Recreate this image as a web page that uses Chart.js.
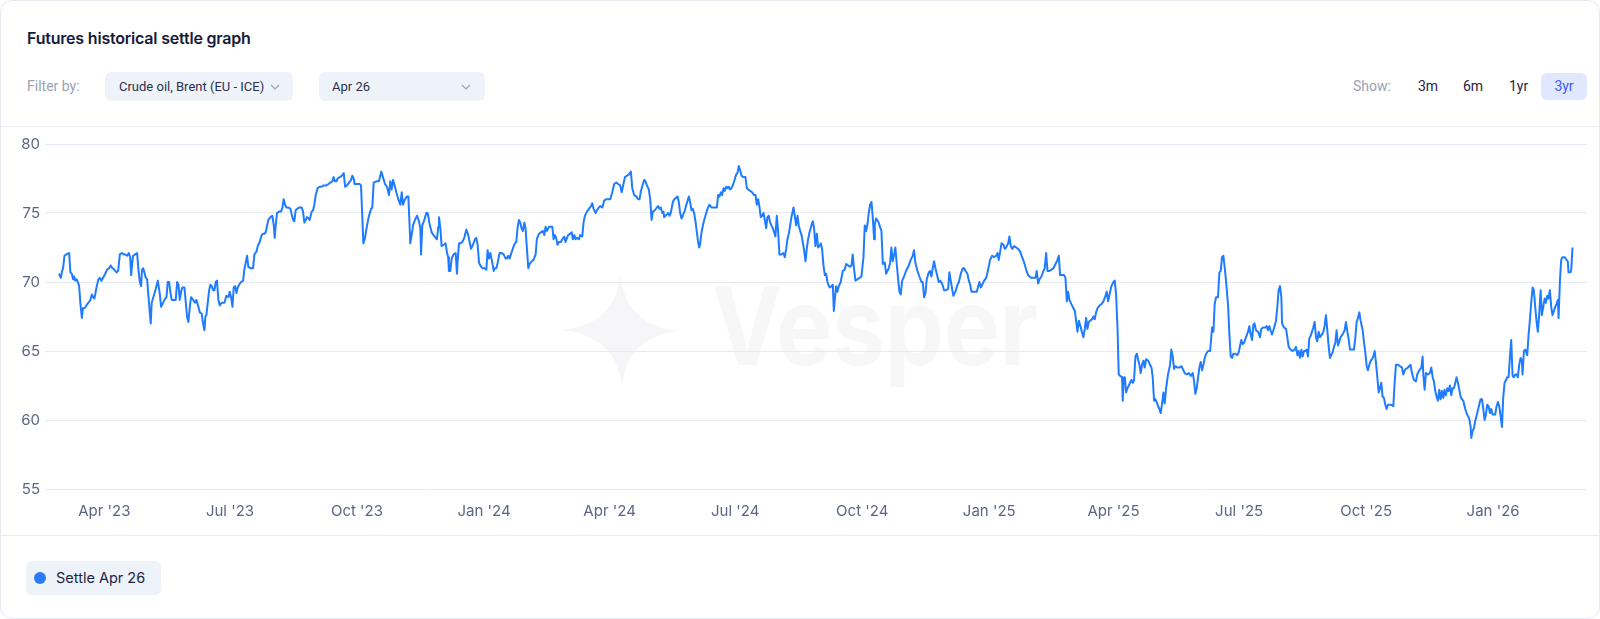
<!DOCTYPE html>
<html>
<head>
<meta charset="utf-8">
<title>Futures historical settle graph</title>
<script src="https://cdn.jsdelivr.net/npm/chart.js@4.4.1/dist/chart.umd.min.js"></script>
<style>
  html, body { margin: 0; padding: 0; background: #fff; }
  body { width: 1600px; height: 619px; position: relative; overflow: hidden; font-family: Inter, Roboto, sans-serif; }
  .card { position: absolute; left: 0; top: 0; width: 1598px; height: 617px; border: 1px solid #e7eaf1; border-radius: 12px; }
  .abs { position: absolute; white-space: nowrap; }
  .title { left: 27px; top: 29px; font: 600 16px/19px Inter, sans-serif; color: #161a3d; letter-spacing: -0.2px; }
  .muted { color: #9aa2b3; font: 14px/17px Roboto, sans-serif; }
  .select { background: #eef3f9; border-radius: 6px; height: 29px; top: 72px; }
  .select span { position: absolute; top: 6px; font: 13px/17px Roboto, sans-serif; color: #2b3050; }
  .select svg { position: absolute; top: 12px; }
  .range { top: 78px; font: 14px/17px Roboto, sans-serif; color: #1f2447; }
  .range.on { background: #dfe8ff; color: #3d5afe; border-radius: 6px; top: 73px; height: 27px; width: 46px; line-height: 27px; text-align: center; }
  .sep { left: 1px; width: 1598px; height: 1px; background: #e8ebf2; }
  .chip { left: 26px; top: 561px; width: 135px; height: 34px; background: #eef3f9; border-radius: 6px; }
  .chip i { position: absolute; left: 8px; top: 11px; width: 12px; height: 12px; border-radius: 50%; background: #2a7cf6; }
  .chip span { position: absolute; left: 30px; top: 8px; font: 14.5px/18px Inter, sans-serif; color: #1e2446; }
  #wrap { position: absolute; left: 0; top: 130px; width: 1600px; height: 400px; }
  #mark { position: absolute; left: 0; top: 0; }
</style>
</head>
<body>
<div class="card"></div>
<div class="abs title">Futures historical settle graph</div>

<div class="abs muted" style="left:27px; top:78px;">Filter by:</div>
<div class="abs select" style="left:105px; width:188px;">
  <span style="left:14px;">Crude oil, Brent (EU - ICE)</span>
  <svg style="left:165px;" width="10" height="6" viewBox="0 0 10 6"><polyline points="1,1 5,5 9,1" fill="none" stroke="#9aa2b3" stroke-width="1.2"/></svg>
</div>
<div class="abs select" style="left:319px; width:166px;">
  <span style="left:13px;">Apr 26</span>
  <svg style="left:142px;" width="10" height="6" viewBox="0 0 10 6"><polyline points="1,1 5,5 9,1" fill="none" stroke="#9aa2b3" stroke-width="1.2"/></svg>
</div>

<div class="abs muted" style="left:1353px; top:78px;">Show:</div>
<div class="abs range" style="left:1418px;">3m</div>
<div class="abs range" style="left:1463px;">6m</div>
<div class="abs range" style="left:1509px;">1yr</div>
<div class="abs range on" style="left:1541px;">3yr</div>

<div class="abs sep" style="top:126px;"></div>
<div class="abs sep" style="top:535px;"></div>

<svg id="mark" width="1600" height="619">
  <path d="M620,272 Q618,324 562,330 Q618,336 622,389 Q625,336 680,331 Q624,326 620,272 Z" fill="#f6f6f8"/>
  <text x="712" y="365" font-family="Inter, sans-serif" font-weight="700" font-size="108" fill="#f7f7f8" textLength="326" lengthAdjust="spacingAndGlyphs">Vesper</text>
</svg>

<div id="wrap"><canvas id="myChart" width="1600" height="400"></canvas></div>

<div class="abs chip"><i></i><span>Settle Apr 26</span></div>

<script>
// x = days after 27 Feb 2023, y = settle price (USD/bbl)
const settleMar23 = [
  [0.2,70.6],[1.4,70.3],[2.4,70.8],[3.1,71.0],[4.1,71.9],[5.5,72.0],[7.5,72.1],[8.4,70.7],[9.4,70.6],[10.4,70.2],
  [11.1,70.4],[11.8,70.1],[12.8,70.2],[13.8,70.0],[14.7,69.7],[15.7,68.4],[16.7,67.4],[17.4,68.1],[18.6,68.1],[20.0,68.3],
  [21.5,68.5],[22.9,68.7],[23.9,69.1],[24.9,68.9],[25.8,68.8],[27.3,69.6],[28.7,70.2],[29.7,70.3],[30.9,70.1],[32.1,70.3],
  [33.6,70.6],[35.0,70.9],[36.4,71.0],[37.6,71.2],[38.9,71.0],[40.3,70.9],[41.8,70.7],[43.0,70.8],[44.2,72.0],[45.6,72.1],
  [47.1,72.0],[48.0,72.0],[49.5,71.9],[50.7,72.1],[51.7,71.8],[52.4,70.5],[53.1,71.3],[53.8,71.9],[55.3,72.0],[56.7,72.1],
  [57.7,70.9],[58.7,70.0],[59.6,69.7],[60.3,70.9],[61.1,71.0],[62.0,70.7],[63.0,70.3],[64.0,70.2],[64.9,69.0],[65.9,67.8],
  [66.6,67.0],[67.3,68.5],[68.8,69.0],[70.2,69.5],[71.7,70.1],[73.1,69.2],[74.1,68.2],[75.1,68.4],[76.5,68.7],[78.0,68.9],
  [78.9,70.0],[79.9,70.0],[80.9,69.2],[81.8,68.7],[83.3,68.7],[84.7,68.7],[85.7,70.0],[86.7,69.8],[87.6,68.7],[88.6,69.3],
  [89.5,69.6],[91.0,69.6],[92.0,68.5],[92.9,67.5],[93.9,67.1],[94.9,68.2],[95.8,68.9],[97.3,68.7],[98.7,68.5],[99.7,68.7],
  [101.1,68.2],[102.1,67.8],[103.5,67.7],[104.5,67.0],[105.5,66.5],[106.2,67.5],[106.9,67.6],[107.9,68.5],[108.9,69.4],[109.8,69.8],
  [110.8,69.7],[111.8,69.4],[112.7,69.4],[113.7,70.0],[114.6,70.1],[115.6,68.7],[116.6,68.3],[118.0,68.5],[120.0,68.5],[121.4,69.0],
  [122.9,68.9],[123.8,69.3],[124.8,68.9],[125.8,68.2],[126.7,69.6],[127.7,69.7],[128.7,69.2],[129.6,69.6],[130.6,69.8],[132.0,70.0],
  [133.5,70.1],[134.4,70.9],[135.4,71.4],[136.4,71.9],[137.3,71.1],[138.8,71.0],[140.7,71.0],[141.7,72.0],[143.2,72.2],[144.1,72.6],
  [145.5,72.9],[147.0,73.4],[148.0,73.5],[148.9,73.5],[149.9,73.6],[150.9,74.1],[151.8,74.5],[153.3,74.7],[154.7,74.8],[155.7,74.1],
  [156.4,73.2],[157.1,74.1],[158.1,75.0],[159.5,75.1],[161.0,75.1],[162.0,75.4],[162.9,76.0],[163.9,75.6],[164.9,75.4],[166.3,75.4],
  [167.8,75.3],[168.7,74.9],[169.7,74.5],[170.6,74.4],[171.6,75.2],[172.6,75.3],[174.0,75.4],[176.0,75.4],[176.9,75.1],[177.9,74.3],
  [178.9,74.5],[179.8,74.7],[180.8,74.6],[181.7,74.5],[183.2,75.1],[184.2,75.2],[185.1,75.6],[186.1,76.3],[187.5,76.8],[189.0,76.9],
  [190.4,76.9],[191.9,77.0],[193.8,77.0],[195.3,77.1],[196.7,77.2],[198.2,77.3],[199.1,77.6],[199.9,77.3],[201.1,77.3],[202.0,77.5],
  [203.5,77.6],[205.0,77.7],[206.4,77.9],[207.4,76.9],[208.8,77.0],[210.2,77.2],[211.7,77.4],[212.6,77.7],[213.6,77.5],[214.3,77.1]
];
const settleOct23 = [
  [215.5,77.1],[217.9,77.1],[218.9,77.0],[219.9,74.6],[220.6,72.8],[221.8,73.2],[223.3,74.1],[224.7,74.8],[226.2,75.3],[227.1,75.4],
  [228.1,77.2],[230.0,77.3],[231.9,77.3],[233.6,78.0],[234.8,77.6],[236.3,77.1],[237.7,76.9],[239.2,76.3],[240.1,77.3],[241.1,76.7],
  [242.1,77.4],[243.0,77.1],[244.5,76.5],[245.9,76.0],[247.4,75.6],[248.4,76.5],[249.3,75.6],[250.8,76.0],[252.2,76.2],[253.2,76.2],
  [254.1,74.1],[254.6,72.8],[255.6,73.4],[256.6,74.1],[258.0,74.5],[259.5,74.8],[260.9,74.4],[261.9,73.9],[262.4,72.0],[263.3,74.1],
  [264.8,74.5],[266.2,75.0],[267.2,75.0],[268.6,74.2],[270.1,73.6],[271.5,73.4],[273.0,73.2],[273.9,73.1],[274.9,74.0],[275.4,74.7],
  [276.4,73.9],[277.3,72.6],[278.8,72.7],[280.2,72.8],[281.2,72.1],[282.1,71.8],[282.6,70.8],[283.6,70.8],[284.6,71.7],[286.0,72.0],
  [287.5,72.1],[288.4,70.6],[288.9,71.5],[289.9,72.8],[290.8,72.8],[292.3,72.9],[293.7,73.2],[295.2,73.8],[296.6,73.4],[297.6,72.9],
  [298.6,72.4],[300.0,72.7],[301.5,73.1],[302.4,73.2],[303.4,72.7],[304.4,71.4],[305.3,71.2],[306.8,71.0],[308.2,71.0],[309.7,70.9],
  [310.6,72.3],[311.6,71.7],[312.6,72.1],[314.0,71.4],[315.0,70.8],[315.9,71.0],[316.9,71.0],[317.9,71.4],[319.3,72.1],[320.8,72.1],
  [322.2,72.0],[323.7,71.7],[324.6,71.7],[325.6,71.9],[326.6,71.7],[327.5,72.0],[328.5,72.3],[329.5,72.6],[330.4,72.8],[331.4,72.9],
  [332.3,73.9],[333.3,74.5],[334.3,74.3],[335.2,73.9],[336.2,73.7],[337.2,74.3],[338.1,73.9],[339.1,72.4],[340.1,71.0],[341.0,71.3],
  [342.5,71.5],[343.9,71.6],[345.4,72.0],[346.3,73.1],[347.8,73.5],[349.2,73.6],[350.7,73.7],[351.7,73.4],[352.6,74.0],[353.6,73.7],
  [355.0,74.0],[356.5,74.0],[357.5,74.0],[358.4,73.1],[359.4,73.4],[360.3,73.2],[361.3,72.7],[362.3,72.9],[363.7,72.9],[364.7,73.1],
  [366.1,73.3],[367.1,72.9],[368.1,73.2],[369.0,73.4],[370.5,73.5],[371.5,73.6],[372.4,73.1],[373.4,73.4],[374.3,73.1],[375.3,73.2],
  [376.8,73.1],[377.7,73.4],[379.2,73.3],[380.1,74.3],[381.1,74.8],[382.6,75.1],[384.0,75.3],[385.5,75.5],[386.4,75.7],[387.4,75.3],
  [388.8,75.0],[389.8,75.2],[391.2,75.4],[392.2,75.5],[393.7,75.4],[395.1,75.9],[396.6,76.0],[398.0,76.0],[399.5,76.0],[400.9,76.5],
  [402.3,77.1],[403.8,77.2],[405.2,77.1],[406.7,77.0],[407.7,76.5],[408.6,76.9],[410.1,77.6],[411.5,77.7],[413.0,77.8],[414.4,78.0],
  [415.4,76.8],[416.8,76.3],[418.3,76.2],[419.7,76.0],[420.7,76.0],[421.7,76.6],[423.1,77.1],[424.1,77.4],[425.0,77.3],[426.0,77.0],
  [427.4,76.7],[428.4,76.0],[429.4,74.5],[430.3,75.1]
];
const settleMay24 = [
  [431.8,75.2],[433.2,75.4],[434.2,75.5],[435.1,75.3],[436.1,75.4],[437.1,75.0],[438.0,75.1],[438.5,74.7],[439.5,74.8],[440.5,74.9],
  [441.4,75.0],[442.4,74.8],[443.3,75.0],[444.8,75.8],[445.8,76.0],[447.2,76.1],[448.2,76.2],[449.1,75.8],[450.1,75.0],[451.1,74.6],
  [452.0,74.8],[453.5,75.2],[454.9,75.7],[456.4,76.2],[457.3,75.8],[458.3,75.2],[459.3,75.3],[460.2,75.0],[461.2,74.4],[462.2,73.6],
  [463.1,72.9],[463.9,72.5],[464.6,72.8],[465.6,73.6],[467.0,74.3],[468.4,74.8],[469.9,75.3],[471.3,75.6],[472.8,75.4],[474.2,75.4],
  [475.7,75.4],[476.7,75.4],[477.6,76.3],[478.6,76.2],[479.6,76.5],[480.5,76.3],[481.5,76.8],[482.4,76.6],[483.4,76.9],[484.4,76.8],
  [485.3,76.9],[486.3,76.7],[487.3,76.8],[488.2,77.0],[489.2,77.3],[490.7,77.8],[491.6,77.9],[492.6,78.4],[493.6,78.1],[494.5,77.7],
  [496.0,77.6],[497.4,77.6],[498.4,76.8],[499.3,76.7],[500.8,76.6],[502.2,76.5],[503.7,76.3],[504.7,76.3],[505.6,75.6],[506.6,76.0],
  [507.6,75.4],[508.5,74.7],[509.5,74.8],[510.5,75.0],[511.4,74.5],[512.4,73.9],[513.3,74.7],[514.3,74.8],[515.3,74.3],[516.2,74.1],
  [517.2,73.9],[518.2,73.6],[519.1,73.3],[520.1,74.8],[521.1,73.6],[522.0,72.0],[523.5,72.0],[524.9,72.1],[525.9,71.8],[526.9,72.4],
  [527.8,73.1],[528.8,73.5],[529.8,74.1],[530.7,74.7],[532.2,75.4],[533.1,74.8],[534.1,74.1],[535.1,74.8],[536.0,74.1],[537.0,73.7],
  [538.0,73.4],[538.9,72.9],[539.9,72.3],[540.9,71.5],[541.8,72.4],[542.8,73.1],[543.8,73.6],[545.2,74.1],[546.2,74.4],[547.1,73.9],
  [548.1,72.6],[549.1,73.5],[550.0,72.5],[551.0,72.6],[552.0,72.8],[552.9,72.4],[553.9,71.2],[554.9,70.5],[555.8,70.6],[556.8,70.0],
  [557.8,69.7],[558.7,69.6],[559.7,69.7],[560.7,69.8],[561.4,67.9],[562.1,68.7],[563.1,69.7],[564.0,69.3],[565.0,69.7],[566.4,70.0],
  [567.9,70.8],[569.3,70.9],[570.3,71.3],[571.8,71.2],[573.2,71.1],[574.2,71.2],[575.1,72.0],[576.1,70.9],[577.1,70.1],[578.5,70.2],
  [580.0,70.3],[581.4,70.4],[582.9,71.8],[583.8,74.1],[584.8,73.7],[585.8,74.2],[586.7,75.0],[587.7,75.6],[588.7,75.8],[589.6,74.7],
  [590.6,73.1],[591.1,74.2],[592.0,74.6],[593.5,74.4],[594.9,74.0],[595.9,73.7],[596.9,71.3],[598.3,71.4],[599.3,70.6],[600.2,70.8],
  [601.2,71.0],[602.2,71.4],[603.1,72.5],[604.1,71.5],[605.1,72.0],[606.0,72.5],[607.0,71.3],[608.0,70.2],[608.9,69.3],[609.9,69.1],
  [610.9,70.1],[612.3,70.4],[613.7,70.8],[615.7,71.2],[617.1,71.6],[618.6,71.9],[619.5,72.3],[620.5,71.4],[622.0,70.8],[623.4,70.4],
  [624.9,70.0],[625.8,70.0],[626.8,68.9],[627.8,69.2],[628.7,70.2],[630.2,70.7],[631.1,70.8],[632.1,70.4],[633.1,71.0],[634.0,71.5],
  [635.0,71.0],[636.0,70.6],[637.4,70.0],[638.4,70.1],[639.8,69.9],[641.3,69.4],[642.7,69.4],[644.2,69.5],[645.1,70.7],[646.1,70.1],
  [647.1,69.5],[648.0,69.0],[648.8,69.2]
];
const settleDec24 = [
  [649.5,69.3],[651.0,69.8],[652.0,70.0],[653.4,70.6],[654.9,71.0],[655.8,71.0],[656.8,70.8],[658.2,70.6],[659.2,70.1],[660.2,69.8],
  [661.1,69.3],[662.1,69.3],[663.5,69.3],[665.0,69.3],[666.0,69.7],[666.9,70.0],[667.9,69.6],[668.9,69.8],[670.3,70.1],[671.8,70.3],
  [673.2,70.9],[674.6,71.6],[676.1,71.9],[677.5,71.8],[679.0,71.9],[680.0,72.1],[680.9,71.6],[681.9,72.2],[682.9,72.8],[684.3,72.7],
  [685.3,72.4],[686.2,72.5],[687.7,72.8],[688.6,73.3],[689.6,72.6],[690.6,72.4],[692.0,72.6],[693.5,72.5],[694.9,72.4],[696.4,72.2],
  [697.8,71.8],[699.3,71.4],[700.7,70.9],[702.2,70.5],[703.1,70.4],[704.6,70.3],[706.0,70.3],[707.5,70.3],[708.4,70.8],[709.4,69.9],
  [710.4,70.2],[711.8,70.4],[713.3,70.8],[714.2,71.0],[715.2,72.1],[716.2,70.8],[717.6,70.8],[719.1,70.9],[720.5,71.0],[722.0,71.3],
  [723.4,71.6],[724.4,71.9],[725.3,70.5],[726.8,70.5],[728.2,70.5],[729.2,70.3],[730.2,68.6],[731.1,69.3],[732.1,68.7],[733.5,68.4],
  [735.0,68.1],[736.0,67.9],[736.9,67.2],[737.9,66.4],[738.9,67.2],[740.3,66.7],[741.3,66.3],[742.2,66.0],[743.2,66.6],[744.2,67.4],
  [745.1,66.6],[746.1,67.1],[747.1,67.2],[748.5,67.3],[749.5,67.5],[750.4,67.3],[751.4,67.8],[752.4,68.1],[753.8,68.3],[755.3,68.4],
  [756.7,68.6],[758.2,69.0],[759.1,69.3],[760.1,68.6],[761.1,69.1],[762.5,69.7],[764.0,70.0],[764.9,70.1],[765.9,69.1],[766.9,66.7],
  [767.8,63.3],[768.8,63.2],[770.2,63.1],[770.7,61.4],[771.2,62.8],[772.2,63.1],[773.1,62.0],[774.1,62.3],[775.1,62.5],[776.0,62.7],
  [777.0,62.9],[778.0,62.7],[778.9,62.9],[779.9,64.6],[780.9,64.8],[781.8,64.4],[782.8,64.0],[783.7,63.4],[784.7,64.0],[785.7,64.3],
  [786.6,63.8],[787.6,64.4],[789.1,64.3],[790.5,64.0],[791.5,63.8],[792.4,63.1],[793.4,61.4],[794.4,61.5],[795.3,61.3],[796.3,61.0],
  [797.3,60.8],[798.2,60.5],[799.2,61.2],[800.2,62.0],[801.1,61.2],[802.1,62.3],[803.5,63.3],[805.0,64.0],[805.9,65.1],[806.9,64.6],
  [807.9,63.7],[808.8,63.9],[810.3,63.8],[811.7,63.8],[813.2,63.9],[814.2,63.7],[815.6,63.4],[817.1,63.3],[818.5,63.4],[820.0,63.2],
  [821.4,63.4],[822.4,62.8],[823.3,61.9],[824.3,62.3],[825.3,63.1],[826.2,63.8],[827.2,64.2],[828.2,63.6],[829.1,64.0],[830.1,64.5],
  [831.1,64.8],[832.5,65.0],[834.0,65.0],[835.4,66.7],[836.4,66.4],[837.3,68.4],[838.3,68.9],[839.7,68.9],[840.7,70.7],[841.7,70.8],
  [842.6,71.8],[843.6,71.9],[844.6,71.0],[845.5,70.1],[847.0,68.3],[847.9,66.3],[848.9,64.6],[849.9,64.5],[850.8,64.8],[852.3,64.8],
  [853.7,64.7],[854.7,64.9],[855.7,65.4],[856.6,65.8],[857.6,65.5],[858.6,65.6],[860.0,66.0],[861.5,66.4],[862.4,66.8],[863.4,66.2],
  [864.4,65.8],[865.3,66.9],[866.1,67.0]
];
const settleJul25 = [
  [867.2,66.5],[868.7,66.4],[870.1,66.0],[871.1,66.6],[872.5,66.7],[874.0,66.7],[875.0,66.8],[875.9,66.5],[876.9,66.8],[877.8,66.5],
  [878.8,66.2],[879.8,66.5],[880.7,66.8],[881.7,67.2],[882.7,68.2],[883.6,69.4],[884.6,69.7],[885.6,68.9],[886.1,67.0],[887.5,66.7],
  [889.0,66.6],[889.9,66.0],[890.9,65.3],[892.3,65.1],[893.8,65.0],[895.2,65.1],[896.2,65.3],[897.2,64.7],[898.1,65.0],[899.1,64.5],
  [900.1,65.1],[901.0,64.6],[902.0,65.0],[903.0,65.0],[903.9,65.1],[904.9,64.6],[905.8,65.9],[906.8,66.1],[907.8,66.4],[908.7,66.7],
  [909.7,67.1],[910.7,66.0],[911.6,65.7],[912.6,66.4],[913.6,66.0],[915.0,66.2],[916.0,66.4],[916.9,66.8],[917.9,67.6],[918.9,66.5],
  [919.8,65.4],[920.8,64.5],[921.8,64.7],[922.7,64.9],[923.7,65.3],[924.7,65.6],[925.6,66.5],[926.6,65.4],[927.6,65.7],[928.5,66.0],
  [930.0,66.2],[931.4,66.5],[932.4,67.1],[933.4,66.4],[934.3,65.9],[935.3,65.1],[936.7,65.1],[938.2,65.1],[939.2,66.0],[940.1,67.1],
  [941.1,67.4],[942.1,67.8],[943.0,67.2],[944.5,66.5],[945.4,65.7],[946.4,64.9],[947.4,63.9],[948.3,63.6],[949.3,64.0],[950.3,64.3],
  [951.2,64.4],[952.2,64.6],[953.2,65.0],[954.1,64.2],[955.1,63.1],[956.1,62.0],[957.0,62.3],[958.0,62.7],[958.9,61.7],[959.9,61.6],
  [960.9,61.1],[961.8,60.8],[962.8,61.1],[963.8,61.1],[965.2,61.1],[966.7,61.0],[967.6,62.6],[968.6,64.0],[970.1,64.0],[971.5,63.9],
  [973.0,63.8],[973.9,63.3],[974.9,63.6],[975.8,63.7],[977.3,63.8],[979.2,64.0],[980.2,63.4],[981.6,62.9],[983.1,62.8],[984.0,63.3],
  [985.5,63.6],[987.0,63.8],[987.9,64.6],[988.4,63.3],[989.4,62.2],[990.3,63.4],[991.8,63.3],[993.2,63.4],[994.2,63.8],[995.2,63.1],
  [996.1,62.8],[997.1,62.1],[998.0,61.7],[999.0,61.4],[1000.0,62.2],[1000.9,61.5],[1001.9,62.1],[1002.9,61.6],[1003.8,62.2],[1004.8,61.8],
  [1005.8,62.3],[1006.7,62.1],[1007.7,62.5],[1008.7,61.8],[1009.6,62.3],[1010.6,62.3],[1011.6,62.7],[1012.5,63.1],[1013.5,62.7],[1014.5,62.2],
  [1015.4,61.7],[1016.4,61.5],[1017.4,61.4],[1018.8,60.8],[1019.8,60.5],[1020.7,60.3],[1021.7,60.1],[1022.7,59.5],[1023.2,58.7],[1024.1,59.2],
  [1025.1,59.4],[1026.0,59.9],[1027.5,60.5],[1028.9,61.1],[1029.9,61.5],[1030.9,61.5],[1031.8,60.9],[1032.8,60.0],[1033.8,60.4],[1034.7,61.1],
  [1035.7,61.0],[1036.7,60.5],[1037.6,60.8],[1038.6,60.4],[1039.6,60.4],[1040.5,60.4],[1041.5,61.0],[1042.5,61.3],[1043.4,61.0],[1044.4,60.3],
  [1045.4,59.5],[1046.3,61.6],[1047.3,62.7],[1048.3,62.9],[1049.2,63.1],[1050.2,63.1],[1051.2,64.6],[1052.1,65.8],[1053.1,63.2],[1054.0,63.1],
  [1055.0,63.3],[1056.0,63.3],[1056.9,63.1],[1057.9,64.0],[1058.9,64.5],[1059.8,64.3],[1060.3,63.3],[1061.3,65.0],[1062.3,65.1],[1063.7,64.7],
  [1064.7,66.2],[1065.6,67.2],[1066.6,68.5],[1067.6,69.6],[1068.5,69.4],[1069.5,68.2],[1070.5,67.1],[1071.4,66.4],[1072.4,67.7],[1073.4,69.4],
  [1074.3,67.6],[1075.3,68.2],[1076.3,68.8],[1077.2,68.5],[1078.2,69.0],[1079.1,68.8],[1080.1,69.4],[1081.1,68.2],[1082.0,67.6],[1083.0,67.9],
  [1084.0,68.2],[1084.9,68.4],[1085.9,68.7],[1086.4,67.4],[1087.4,70.1],[1088.3,71.6],[1089.3,71.8],[1090.7,71.8],[1092.2,71.6],[1093.1,71.5],
  [1093.6,70.7],[1095.1,70.7],[1095.6,70.9],[1096.5,72.5]
];

const startDate = '2023-02-27';
const tickDates = ['2023-04-01', '2023-07-01', '2023-10-01', '2024-01-01', '2024-04-01', '2024-07-01',
                   '2024-10-01', '2025-01-01', '2025-04-01', '2025-07-01', '2025-10-01', '2026-01-01'];
const tickLabels = ["Apr '23", "Jul '23", "Oct '23", "Jan '24", "Apr '24", "Jul '24",
                    "Oct '24", "Jan '25", "Apr '25", "Jul '25", "Oct '25", "Jan '26"];
const yTicks = [55, 60, 65, 70, 75, 80];

const dayOf = d => (Date.parse(d) - Date.parse(startDate)) / 864e5;
const tickDays = tickDates.map(dayOf);

const points = [].concat(settleMar23, settleOct23, settleMay24, settleDec24, settleJul25)
  .map(p => ({ x: p[0], y: p[1] }));

const axisFont = { family: 'Inter', size: 15 };

const ctx = document.getElementById('myChart').getContext('2d');
window.myChart = new Chart(ctx, {
  type: 'line',
  data: {
    datasets: [{
      label: 'Settle Apr 26',
      data: points,
      borderColor: '#1f7bff',
      borderWidth: 2,
      borderJoinStyle: 'round',
      pointRadius: 0,
      fill: false,
      tension: 0
    }]
  },
  options: {
    responsive: false,
    animation: false,
    layout: { padding: { top: 14, right: 13, left: 0, bottom: 0 } },
    plugins: { legend: { display: false }, tooltip: { enabled: false } },
    scales: {
      x: {
        type: 'linear',
        min: -10,
        max: 1107,
        afterBuildTicks: s => { s.ticks = tickDays.map(v => ({ value: v })); },
        afterFit: s => { s.height = 41; },
        grid: { display: false, drawTicks: false },
        border: { display: false },
        ticks: {
          autoSkip: false, maxRotation: 0, padding: 13,
          color: '#5b6684', font: axisFont,
          callback: (v, i) => tickLabels[i]
        }
      },
      y: {
        min: yTicks[0],
        max: yTicks[yTicks.length - 1],
        afterBuildTicks: s => { s.ticks = yTicks.map(v => ({ value: v })); },
        afterFit: s => { s.width = 45; },
        grid: { color: '#e6e9f1', drawTicks: false },
        border: { display: false },
        ticks: { padding: 5, color: '#5b6684', font: axisFont }
      }
    }
  }
});
</script>
</body>
</html>
